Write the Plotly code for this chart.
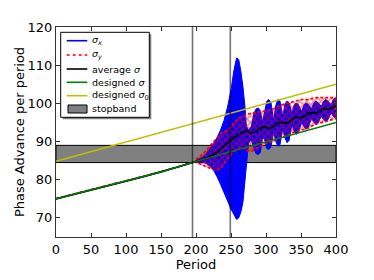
import plotly.graph_objects as go

# ---------------- data ----------------
avg_period = [0, 25, 50, 75, 100, 125, 150, 175, 200, 205, 210, 215, 220, 225, 230, 235, 240,
              245, 250, 255, 260, 265, 270, 275, 280, 285, 290, 295, 300, 305, 310, 315, 320,
              325, 330, 335, 340, 345, 350, 355, 360, 365, 370, 375, 380, 385, 390, 395, 400]
avg_sigma = [75.0, 76.1, 77.3, 78.4, 79.6, 80.8, 82.0, 83.4, 84.8, 85.0, 85.3, 85.6, 86.0, 86.6,
             87.3, 88.0, 88.8, 89.6, 90.4, 91.1, 91.7, 92.3, 92.7, 92.6, 92.3, 92.5, 93.2, 93.8,
             93.7, 93.4, 93.8, 94.6, 95.1, 94.9, 94.8, 95.4, 96.2, 96.4, 96.2, 96.6, 97.3, 97.6,
             97.4, 97.7, 98.4, 98.7, 98.5, 98.9, 99.3]

design_period = [0, 50, 100, 150, 200, 250, 300, 350, 400]
design_sigma = [75.0, 77.3, 79.6, 82.0, 84.8, 87.4, 89.8, 92.4, 95.0]

design0_period = [0, 400]
design0_sigma = [84.8, 105.0]

# sigma_x below period 200 (a single thin line)
sx_line_period = [0, 50, 100, 150, 200]
sx_line_sigma = [75.0, 77.3, 79.6, 82.0, 84.8]

# sigma_x oscillation envelope from period 200 on
sx_period = [200, 210, 215, 220, 225, 230, 235, 240, 245, 250, 254, 258, 261, 264, 267, 270, 272,
             275, 279, 283, 286, 289, 292, 295, 298, 301, 304, 307, 311, 314, 317, 320, 324,
             327, 330, 333, 337, 340, 343, 346, 351, 354, 357, 360, 365, 368, 371, 374, 379,
             382, 385, 388, 393, 396, 399, 400]
sx_low = [84.5, 84.6, 84.2, 83.5, 82.5, 80.8, 78.8, 76.8, 74.5, 72.3, 70.8, 69.6, 70.0, 71.5,
          74.0, 78.5, 84.0, 89.5, 90.5, 88.0, 86.8, 86.6, 87.2, 91.0, 90.5, 88.2, 87.9, 88.6, 92.5,
          90.0, 88.8, 89.2, 93.5, 91.0, 89.7, 90.3, 94.5, 92.8, 91.9, 92.3, 95.0, 94.0, 93.2,
          93.6, 96.0, 95.2, 94.5, 94.8, 96.6, 95.8, 95.3, 95.6, 97.5, 96.6, 96.2, 96.4]
sx_high = [85.1, 86.0, 87.0, 88.2, 89.5, 91.0, 93.0, 95.5, 99.0, 103.5, 108.5, 111.9, 111.5, 108.5,
           104.5, 99.0, 94.0, 93.0, 94.0, 97.5, 98.6, 98.8, 98.0, 95.0, 97.5, 100.5, 101.0,
           100.3, 95.5, 99.5, 101.0, 100.6, 96.5, 99.8, 100.6, 100.2, 97.2, 99.5, 100.1, 99.8,
           97.8, 99.5, 100.1, 99.8, 98.6, 100.0, 100.6, 100.3, 99.2, 100.5, 101.0, 100.7, 99.6,
           101.0, 101.4, 101.2]

# sigma_y below period 200 (dashed line) and its envelope afterwards
sy_line_period = [0, 50, 100, 150, 200]
sy_line_sigma = [75.1, 77.4, 79.7, 82.1, 84.8]
sy_period = [200, 205, 210, 215, 220, 225, 230, 235, 240, 245, 250, 255, 260, 265, 270, 275,
             280, 285, 290, 300, 310, 320, 330, 340, 350, 360, 370, 380, 390, 400]
sy_low = [84.3, 84.2, 83.8, 83.3, 83.0, 82.6, 82.5, 83.0, 84.0, 85.5, 86.5, 87.5, 88.0, 88.5,
          88.0, 87.5, 87.5, 88.0, 88.5, 89.5, 90.0, 91.0, 91.5, 92.5, 93.0, 93.5, 94.5, 95.0,
          95.5, 96.0]
sy_high = [85.3, 86.0, 86.8, 87.8, 88.8, 90.0, 91.0, 92.0, 92.5, 93.0, 94.0, 95.0, 96.0, 96.5,
           97.0, 97.3, 97.5, 97.5, 97.8, 98.0, 98.5, 99.5, 100.0, 100.5, 101.0, 101.0, 101.5,
           101.5, 101.5, 101.5]

stopband = [84.5, 89.0]
boundary_periods = [195, 249]

x_ticks = [0, 50, 100, 150, 200, 250, 300, 350, 400]
y_ticks = [70, 80, 90, 100, 110, 120]

legend_labels = ["<i>σ<sub>x</sub></i>", "<i>σ<sub>y</sub></i>", "average <i>σ</i>",
                 "designed <i>σ</i>", "designed <i>σ</i><sub>0</sub>", "stopband"]

# ---------------- figure ----------------
W, H = 374, 280
ML, MR, MT, MB = 56, 38, 27, 43
PW, PH = W - ML - MR, H - MT - MB

BLUE, RED, GREEN, YELLOW = "#0000ff", "#ff0000", "#008000", "#bfbf00"
FONT = "DejaVu Sans"


def px2x(px):
    return (px - ML) / PW


def px2y(py):
    return (H - MB - py) / PH


fig = go.Figure()

# sigma_x
fig.add_trace(go.Scatter(x=sx_line_period, y=sx_line_sigma, mode="lines",
                         line=dict(color=BLUE, width=1.6), showlegend=False))
fig.add_trace(go.Scatter(x=sx_period + sx_period[::-1], y=sx_high + sx_low[::-1],
                         mode="lines", fill="toself", fillcolor=BLUE,
                         line=dict(color=BLUE, width=1.0), showlegend=False))
# sigma_y
fig.add_trace(go.Scatter(x=sy_line_period, y=sy_line_sigma, mode="lines",
                         line=dict(color=RED, width=1.6, dash="3px,3px"), showlegend=False))
fig.add_trace(go.Scatter(x=sy_period + sy_period[::-1], y=sy_high + sy_low[::-1],
                         mode="lines", fill="toself", fillcolor="rgba(0,0,0,0)",
                         fillpattern=dict(shape="x", fgcolor=RED, bgcolor="rgba(0,0,0,0)",
                                          size=5, solidity=0.55),
                         line=dict(color=RED, width=1.6, dash="3px,2px"), showlegend=False))
# average
fig.add_trace(go.Scatter(x=avg_period, y=avg_sigma, mode="lines",
                         line=dict(color="black", width=1.8), showlegend=False))
# designed
fig.add_trace(go.Scatter(x=design_period, y=design_sigma, mode="lines",
                         line=dict(color=GREEN, width=1.5), showlegend=False))
fig.add_trace(go.Scatter(x=design0_period, y=design0_sigma, mode="lines",
                         line=dict(color=YELLOW, width=1.5), showlegend=False))

shapes = []
# stopband
shapes.append(dict(type="rect", xref="paper", yref="y", x0=0, x1=1,
                   y0=stopband[0], y1=stopband[1], fillcolor="#808080",
                   line=dict(color="black", width=1), layer="below"))
# boundary lines
for bp in boundary_periods:
    shapes.append(dict(type="line", xref="x", yref="paper", x0=bp, x1=bp, y0=0, y1=1,
                       line=dict(color="rgba(0,0,0,0.55)", width=1.6), layer="above"))

# manual legend
lx0, lx1, ly0, ly1 = 60.7, 149.3, 32.3, 117.3
shapes.append(dict(type="rect", xref="paper", yref="paper",
                   x0=px2x(lx0 + 2), x1=px2x(lx1 + 2), y0=px2y(ly1 + 2), y1=px2y(ly0 + 2),
                   fillcolor="#7f7f7f", line=dict(width=0), layer="above"))
shapes.append(dict(type="rect", xref="paper", yref="paper",
                   x0=px2x(lx0), x1=px2x(lx1), y0=px2y(ly1), y1=px2y(ly0),
                   fillcolor="white", line=dict(color="black", width=1), layer="above"))
entry_y = [40.7, 55.0, 69.0, 82.3, 95.7, 109.0]
styles = [dict(color=BLUE, width=1.6), dict(color=RED, width=1.6, dash="3px,3px"),
          dict(color="black", width=1.6), dict(color=GREEN, width=1.6),
          dict(color=YELLOW, width=1.6)]
for i, st in enumerate(styles):
    shapes.append(dict(type="line", xref="paper", yref="paper",
                       x0=px2x(66.7), x1=px2x(87.3), y0=px2y(entry_y[i]), y1=px2y(entry_y[i]),
                       line=st, layer="above"))
shapes.append(dict(type="rect", xref="paper", yref="paper",
                   x0=px2x(68), x1=px2x(87), y0=px2y(entry_y[5] + 4), y1=px2y(entry_y[5] - 4),
                   fillcolor="#808080", line=dict(color="black", width=1), layer="above"))

annotations = []
for i, lab in enumerate(legend_labels):
    annotations.append(dict(text=lab, xref="paper", yref="paper", x=px2x(90.0),
                            y=px2y(entry_y[i]), xanchor="left", yanchor="middle",
                            showarrow=False, font=dict(family=FONT, size=9.5, color="black")))

axis_common = dict(showgrid=False, zeroline=False, showline=True, linecolor="#333",
                   linewidth=1, mirror="ticks", ticks="inside", ticklen=4, tickwidth=1,
                   tickcolor="#333", automargin=False,
                   tickfont=dict(family=FONT, size=13, color="black"))

fig.update_layout(
    width=W, height=H, autosize=False,
    margin=dict(l=ML, r=MR, t=MT, b=MB, pad=0),
    paper_bgcolor="white", plot_bgcolor="white",
    showlegend=False,
    shapes=shapes, annotations=annotations,
    xaxis=dict(range=[0, 400], tickvals=x_ticks, ticktext=[str(v) for v in x_ticks],
               title=dict(text="Period", font=dict(family=FONT, size=13, color="black"),
                          standoff=0), **axis_common),
    yaxis=dict(range=[65, 120], tickvals=y_ticks, ticktext=[str(v) for v in y_ticks],
               title=dict(text="Phase Advance per period",
                          font=dict(family=FONT, size=13, color="black"), standoff=0),
               **axis_common),
)

fig.write_html("out.html", config={"displayModeBar": False},
               post_script="document.body.style.margin='0px';"
                           "document.body.style.overflow='hidden';")
